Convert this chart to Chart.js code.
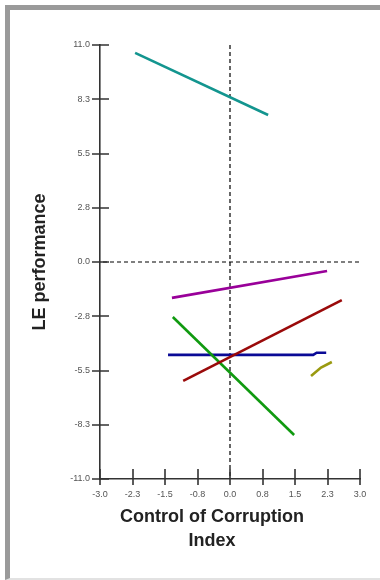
<!DOCTYPE html>
<html>
<head>
<meta charset="utf-8">
<script src="https://cdn.jsdelivr.net/npm/chart.js@4"></script>
<style>
  html, body { margin: 0; padding: 0; background: #fff; }
  #wrap { position: absolute; left: 0; top: 0; width: 380px; height: 580px; }
  #frame { position: absolute; left: 5px; top: 5px; right: 0; bottom: 0;
           border-top: 5px solid #9a9a9a; border-left: 5px solid #9a9a9a;
           border-bottom: 2px solid #e2e2e2; box-sizing: border-box; pointer-events: none; }
</style>
</head>
<body>
<div id="wrap">
  <canvas id="leChart"></canvas>
  <div id="frame"></div>
</div>
<script>
// --- dados ---
const xTickLabels = ['-3.0', '-2.3', '-1.5', '-0.8', '0.0', '0.8', '1.5', '2.3', '3.0'];
const yTickLabels = ['-11.0', '-8.3', '-5.5', '-2.8', '0.0', '2.8', '5.5', '8.3', '11.0'];

const tealX = [-2.19, 0.88];
const tealY = [10.6, 7.45];
const purpleX = [-1.34, 2.24];
const purpleY = [-1.82, -0.46];
const redX = [-1.08, 2.58];
const redY = [-6.03, -1.93];
const greenX = [-1.32, 1.48];
const greenY = [-2.79, -8.77];
const blueX = [-1.43, 1.92, 2.0, 2.22];
const blueY = [-4.71, -4.71, -4.6, -4.6];
const oliveX = [1.87, 2.1, 2.35];
const oliveY = [-5.78, -5.35, -5.07];

function pts(xs, ys) {
    return xs.map((v, i) => ({ x: v, y: ys[i] }));
}

const series = [
    { label: 'teal', x: tealX, y: tealY, color: '#13958f' },
    { label: 'purple', x: purpleX, y: purpleY, color: '#990099' },
    { label: 'red', x: redX, y: redY, color: '#9a0a0a' },
    { label: 'green', x: greenX, y: greenY, color: '#109a10' },
    { label: 'blue', x: blueX, y: blueY, color: '#0a0a96' },
    { label: 'olive', x: oliveX, y: oliveY, color: '#9a9a10' }
];

// linhas tracejadas no zero, marcas dos eixos e títulos
const overlay = {
    id: 'overlay',
    beforeDatasetsDraw(chart) {
        const { ctx, chartArea, scales: { x, y } } = chart;
        const x0 = x.getPixelForValue(0);
        const y0 = y.getPixelForValue(0);
        ctx.save();
        ctx.strokeStyle = '#000';
        ctx.lineWidth = 1.2;
        ctx.setLineDash([4, 3]);
        ctx.beginPath();
        ctx.moveTo(x0, chartArea.top);
        ctx.lineTo(x0, chartArea.bottom);
        ctx.moveTo(chartArea.left + 3, y0);
        ctx.lineTo(chartArea.right, y0);
        ctx.stroke();
        ctx.restore();
    },
    afterDraw(chart) {
        const { ctx, chartArea, scales: { x, y } } = chart;
        ctx.save();
        ctx.strokeStyle = '#333';
        ctx.lineWidth = 1.6;
        ctx.beginPath();
        y.ticks.forEach(t => {
            const py = Math.round(y.getPixelForValue(t.value));
            ctx.moveTo(chartArea.left - 8, py);
            ctx.lineTo(chartArea.left + 9, py);
        });
        x.ticks.forEach(t => {
            const px = Math.round(x.getPixelForValue(t.value));
            ctx.moveTo(px, chartArea.bottom - 10);
            ctx.lineTo(px, chartArea.bottom + 6);
        });
        ctx.stroke();

        ctx.fillStyle = '#222';
        ctx.font = 'bold 18px "Liberation Sans", Arial, sans-serif';
        ctx.textAlign = 'center';
        ctx.textBaseline = 'middle';
        ctx.fillText('Control of Corruption', 212, 517);
        ctx.fillText('Index', 212, 541);
        ctx.translate(40, 262);
        ctx.rotate(-Math.PI / 2);
        ctx.fillText('LE performance', 0, 0);
        ctx.restore();
    }
};

const ctx = document.getElementById('leChart').getContext('2d');

const leChart = new Chart(ctx, {
    type: 'line',
    data: {
        datasets: series.map(s => ({
            label: s.label,
            data: pts(s.x, s.y),
            borderColor: s.color,
            backgroundColor: s.color,
            borderWidth: 2.6,
            pointRadius: 0,
            tension: 0,
            fill: false
        }))
    },
    options: {
        responsive: true,
        maintainAspectRatio: false,
        animation: false,
        layout: { padding: { left: 0, right: 20, top: 45, bottom: 0 } },
        scales: {
            x: {
                type: 'linear',
                min: -3,
                max: 3,
                afterFit: s => { s.height = 101; },
                ticks: {
                    stepSize: 0.75,
                    padding: 10,
                    color: '#555',
                    font: { family: '"Liberation Sans", Arial, sans-serif', size: 9 },
                    callback: (v, i) => xTickLabels[i]
                },
                grid: { display: true, drawOnChartArea: false, drawTicks: false },
                border: { display: true, color: '#333', width: 1.6 }
            },
            y: {
                type: 'linear',
                min: -11,
                max: 11,
                afterFit: s => { s.width = 100; },
                ticks: {
                    stepSize: 2.75,
                    padding: 10,
                    color: '#555',
                    font: { family: '"Liberation Sans", Arial, sans-serif', size: 9 },
                    callback: (v, i) => yTickLabels[i]
                },
                grid: { display: true, drawOnChartArea: false, drawTicks: false },
                border: { display: true, color: '#333', width: 1.6 }
            }
        },
        plugins: {
            legend: { display: false },
            tooltip: { enabled: false }
        }
    },
    plugins: [overlay]
});
</script>
</body>
</html>
